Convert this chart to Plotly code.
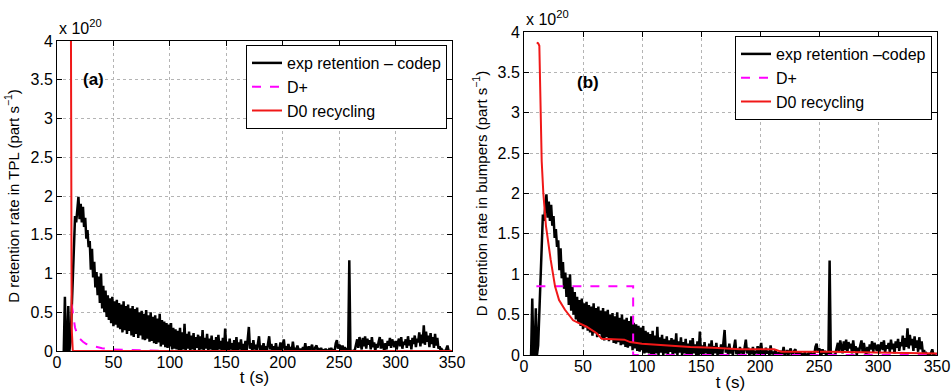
import plotly.graph_objects as go

W, H = 952, 392

# ---------------- data (rates in units of 1e20 part/s) ----------------
EXP_T0 = 6  # first sample time (s), 1 s sampling
exp_rate = [
    0.00, 0.70, 0.00, 0.00, 0.58, 0.00, 0.12, 0.52, 1.02, 1.48,
    1.74, 1.66, 1.90, 1.99, 1.70, 1.90, 1.66, 1.86, 1.60, 1.72,
    1.45, 1.56, 1.34, 1.42, 1.05, 1.32, 0.95, 1.15, 0.82, 1.02,
    0.72, 0.96, 0.62, 1.00, 0.55, 0.84, 0.50, 0.78, 0.44, 0.72,
    0.40, 0.68, 0.36, 0.70, 0.32, 0.64, 0.34, 0.66, 0.30, 0.62,
    0.28, 0.60, 0.24, 0.64, 0.27, 0.58, 0.22, 0.60, 0.26, 0.55,
    0.20, 0.58, 0.18, 0.54, 0.22, 0.56, 0.17, 0.50, 0.20, 0.52,
    0.15, 0.48, 0.14, 0.53, 0.16, 0.46, 0.12, 0.50, 0.13, 0.44,
    0.10, 0.46, 0.09, 0.42, 0.11, 0.48, 0.06, 0.40, 0.08, 0.38,
    0.05, 0.36, 0.04, 0.34, 0.06, 0.36, 0.02, 0.30, 0.03, 0.28,
    0.02, 0.26, 0.00, 0.30, 0.01, 0.24, 0.02, 0.35, 0.00, 0.22,
    0.03, 0.25, 0.00, 0.20, 0.02, 0.23, 0.00, 0.18, 0.04, 0.21,
    0.00, 0.19, 0.02, 0.27, 0.00, 0.17, 0.03, 0.22, 0.00, 0.16,
    0.02, 0.20, 0.00, 0.14, 0.01, 0.18, 0.00, 0.21, 0.02, 0.13,
    0.00, 0.17, 0.00, 0.29, 0.01, 0.12, 0.00, 0.16, 0.02, 0.10,
    0.00, 0.14, 0.01, 0.18, 0.00, 0.11, 0.02, 0.15, 0.00, 0.09,
    0.01, 0.13, 0.00, 0.12, 0.31, 0.03, 0.10, 0.00, 0.14, 0.02,
    0.08, 0.00, 0.11, 0.19, 0.01, 0.07, 0.00, 0.10, 0.02, 0.06,
    0.00, 0.12, 0.19, 0.02, 0.09, 0.00, 0.06, 0.01, 0.10, 0.00,
    0.05, 0.02, 0.11, 0.00, 0.08, 0.15, 0.01, 0.06, 0.00, 0.09,
    0.02, 0.05, 0.00, 0.12, 0.01, 0.04, 0.00, 0.07, 0.02, 0.00,
    0.03, 0.00, 0.05, 0.01, 0.10, 0.00, 0.02, 0.06, 0.00, 0.03,
    0.08, 0.00, 0.01, 0.05, 0.07, 0.00, 0.02, 0.00, 0.04, 0.00,
    0.01, 0.00, 0.03, 0.00, 0.00, 0.02, 0.00, 0.04, 0.00, 0.01,
    0.00, 0.10, 0.14, 0.03, 0.08, 0.06, 0.00, 0.07, 0.02, 0.05,
    0.00, 0.02, 0.00, 1.17, 0.00, 0.00, 0.00, 0.00, 0.02, 0.08,
    0.15, 0.04, 0.18, 0.10, 0.02, 0.17, 0.06, 0.19, 0.03, 0.16,
    0.08, 0.14, 0.02, 0.18, 0.05, 0.11, 0.00, 0.09, 0.04, 0.12,
    0.18, 0.03, 0.15, 0.06, 0.00, 0.10, 0.02, 0.13, 0.07, 0.17,
    0.04, 0.15, 0.09, 0.05, 0.13, 0.02, 0.11, 0.16, 0.06, 0.18,
    0.03, 0.12, 0.08, 0.15, 0.04, 0.19, 0.07, 0.14, 0.02, 0.17,
    0.09, 0.20, 0.05, 0.16, 0.11, 0.24, 0.06, 0.21, 0.10, 0.33,
    0.08, 0.25, 0.12, 0.20, 0.05, 0.23, 0.09, 0.18, 0.04, 0.22,
    0.07, 0.17, 0.03, 0.06, 0.00, 0.02, 0.00, 0.00, 0.00, 0.03,
    0.07, 0.00, 0.00, 0.00,
]
exp_t = [EXP_T0 + i for i in range(len(exp_rate))]

# panel (a) models
dplus_a_t = [13, 14, 15, 16, 18, 20, 23, 26, 30, 35, 40, 50, 60, 70, 80, 90, 100, 350]
dplus_a = [0.60, 0.50, 0.38, 0.30, 0.22, 0.16, 0.12, 0.09, 0.07, 0.05, 0.035, 0.02,
           0.015, 0.01, 0.005, 0.003, 0.0, 0.0]
d0_a_t = [12.3, 13.0, 14.0, 350]
d0_a = [4.5, 0.3, 0.0, 0.0]

# panel (b) models
dplus_b_t = [10.5, 92.5, 92.5, 350]
dplus_b = [0.85, 0.85, 0.0, 0.0]
d0_b_t = [10.8, 12.0, 13.0, 13.6, 14.0, 15.0, 16.4, 18.6, 22.6, 26.3, 29.7, 34.7, 41.6,
          53.0, 61.6, 66.0, 85.0, 90.0, 100, 120, 141, 160, 183, 212, 218, 260, 300, 340, 350]
d0_b = [3.87, 3.86, 3.83, 3.50, 2.95, 2.40, 2.00, 1.60, 1.18, 0.85, 0.68, 0.56, 0.43,
        0.35, 0.27, 0.20, 0.19, 0.16, 0.14, 0.12, 0.10, 0.09, 0.07, 0.07, 0.04, 0.04,
        0.03, 0.025, 0.02]

x_ticks = [0, 50, 100, 150, 200, 250, 300, 350]
y_ticks = [0, 0.5, 1, 1.5, 2, 2.5, 3, 3.5, 4]
y_ticktext = ["0", "0.5", "1", "1.5", "2", "2.5", "3", "3.5", "4"]

names_a = ["exp retention \u2013 codep", "D+", "D0 recycling"]
names_b = ["exp retention \u2013codep", "D+", "D0 recycling"]

FONT = "Liberation Sans, Arial, Helvetica, sans-serif"
BLACK = "#000000"
MAGENTA = "#ff00ff"
RED = "#f01818"

fig = go.Figure()

# panel (a)
fig.add_trace(go.Scatter(x=exp_t, y=exp_rate, mode="lines", name=names_a[0],
                         line=dict(color=BLACK, width=2.5), xaxis="x", yaxis="y", legend="legend"))
fig.add_trace(go.Scatter(x=dplus_a_t, y=dplus_a, mode="lines", name=names_a[1],
                         line=dict(color=MAGENTA, width=2, dash="dash"), xaxis="x", yaxis="y", legend="legend"))
fig.add_trace(go.Scatter(x=d0_a_t, y=d0_a, mode="lines", name=names_a[2],
                         line=dict(color=RED, width=2), xaxis="x", yaxis="y", legend="legend"))

# panel (b)
fig.add_trace(go.Scatter(x=exp_t, y=exp_rate, mode="lines", name=names_b[0],
                         line=dict(color=BLACK, width=2.5), xaxis="x2", yaxis="y2", legend="legend2"))
fig.add_trace(go.Scatter(x=dplus_b_t, y=dplus_b, mode="lines", name=names_b[1],
                         line=dict(color=MAGENTA, width=2, dash="dash"), xaxis="x2", yaxis="y2", legend="legend2"))
fig.add_trace(go.Scatter(x=d0_b_t, y=d0_b, mode="lines", name=names_b[2],
                         line=dict(color=RED, width=2), xaxis="x2", yaxis="y2", legend="legend2"))

axis_common = dict(showline=True, linecolor="black", linewidth=1, mirror="ticks",
                   ticks="inside", ticklen=5, tickcolor="black", showgrid=True,
                   gridcolor="#b4b4b4", griddash="dot", gridwidth=1, zeroline=False,
                   automargin=False,
                   tickfont=dict(family=FONT, size=16, color="black"))

xdom_a = [57 / W, 452 / W]
ydom_a = [1 - 351 / H, 1 - 41 / H]
xdom_b = [524 / W, 937 / W]
ydom_b = [1 - 355 / H, 1 - 32 / H]

fig.update_layout(
    width=W, height=H,
    margin=dict(l=0, r=0, t=0, b=0),
    paper_bgcolor="white", plot_bgcolor="white",
    font=dict(family=FONT, color="black"),
    showlegend=True,
    xaxis=dict(axis_common, domain=xdom_a, range=[0, 350], tickvals=x_ticks, anchor="y",
               ticklabelstandoff=-3,
               title=dict(text="t (s)", font=dict(size=17), standoff=0)),
    yaxis=dict(axis_common, domain=ydom_a, range=[0, 4], tickvals=y_ticks, ticktext=y_ticktext,
               anchor="x",
               title=dict(text="D retention rate in TPL (part s<sup>\u22121</sup>)", font=dict(size=15), standoff=7)),
    xaxis2=dict(axis_common, domain=xdom_b, range=[0, 350], tickvals=x_ticks, anchor="y2",
                ticklabelstandoff=-3,
                title=dict(text="t (s)", font=dict(size=17), standoff=2)),
    yaxis2=dict(axis_common, domain=ydom_b, range=[0, 4], tickvals=y_ticks, ticktext=y_ticktext,
                anchor="x2",
                title=dict(text="D retention rate in bumpers (part s<sup>\u22121</sup>)", font=dict(size=15), standoff=6)),
    legend=dict(x=447 / W, xanchor="right", y=1 - 45 / H, yanchor="top", bgcolor="white",
                bordercolor="black", borderwidth=1, font=dict(family=FONT, size=16, color="black"),
                itemwidth=30, tracegroupgap=0),
    legend2=dict(x=932 / W, xanchor="right", y=1 - 36 / H, yanchor="top", bgcolor="white",
                 bordercolor="black", borderwidth=1, font=dict(family=FONT, size=16, color="black"),
                 itemwidth=30, tracegroupgap=0),
    annotations=[
        dict(text="x 10<sup>20</sup>", xref="paper", yref="paper", x=xdom_a[0], y=ydom_a[1] + 0.005,
             xanchor="left", yanchor="bottom", showarrow=False, font=dict(size=16)),
        dict(text="x 10<sup>20</sup>", xref="paper", yref="paper", x=xdom_b[0], y=ydom_b[1] + 0.005,
             xanchor="left", yanchor="bottom", showarrow=False, font=dict(size=16)),
        dict(text="<b>(a)</b>", xref="x", yref="y", x=32, y=3.5, showarrow=False,
             font=dict(size=17)),
        dict(text="<b>(b)</b>", xref="x2", yref="y2", x=54, y=3.38, showarrow=False,
             font=dict(size=17)),
    ],
)

fig.write_html("out.html", config={"displayModeBar": False},
               post_script="document.body.style.margin='0px';document.body.style.overflow='hidden';")
